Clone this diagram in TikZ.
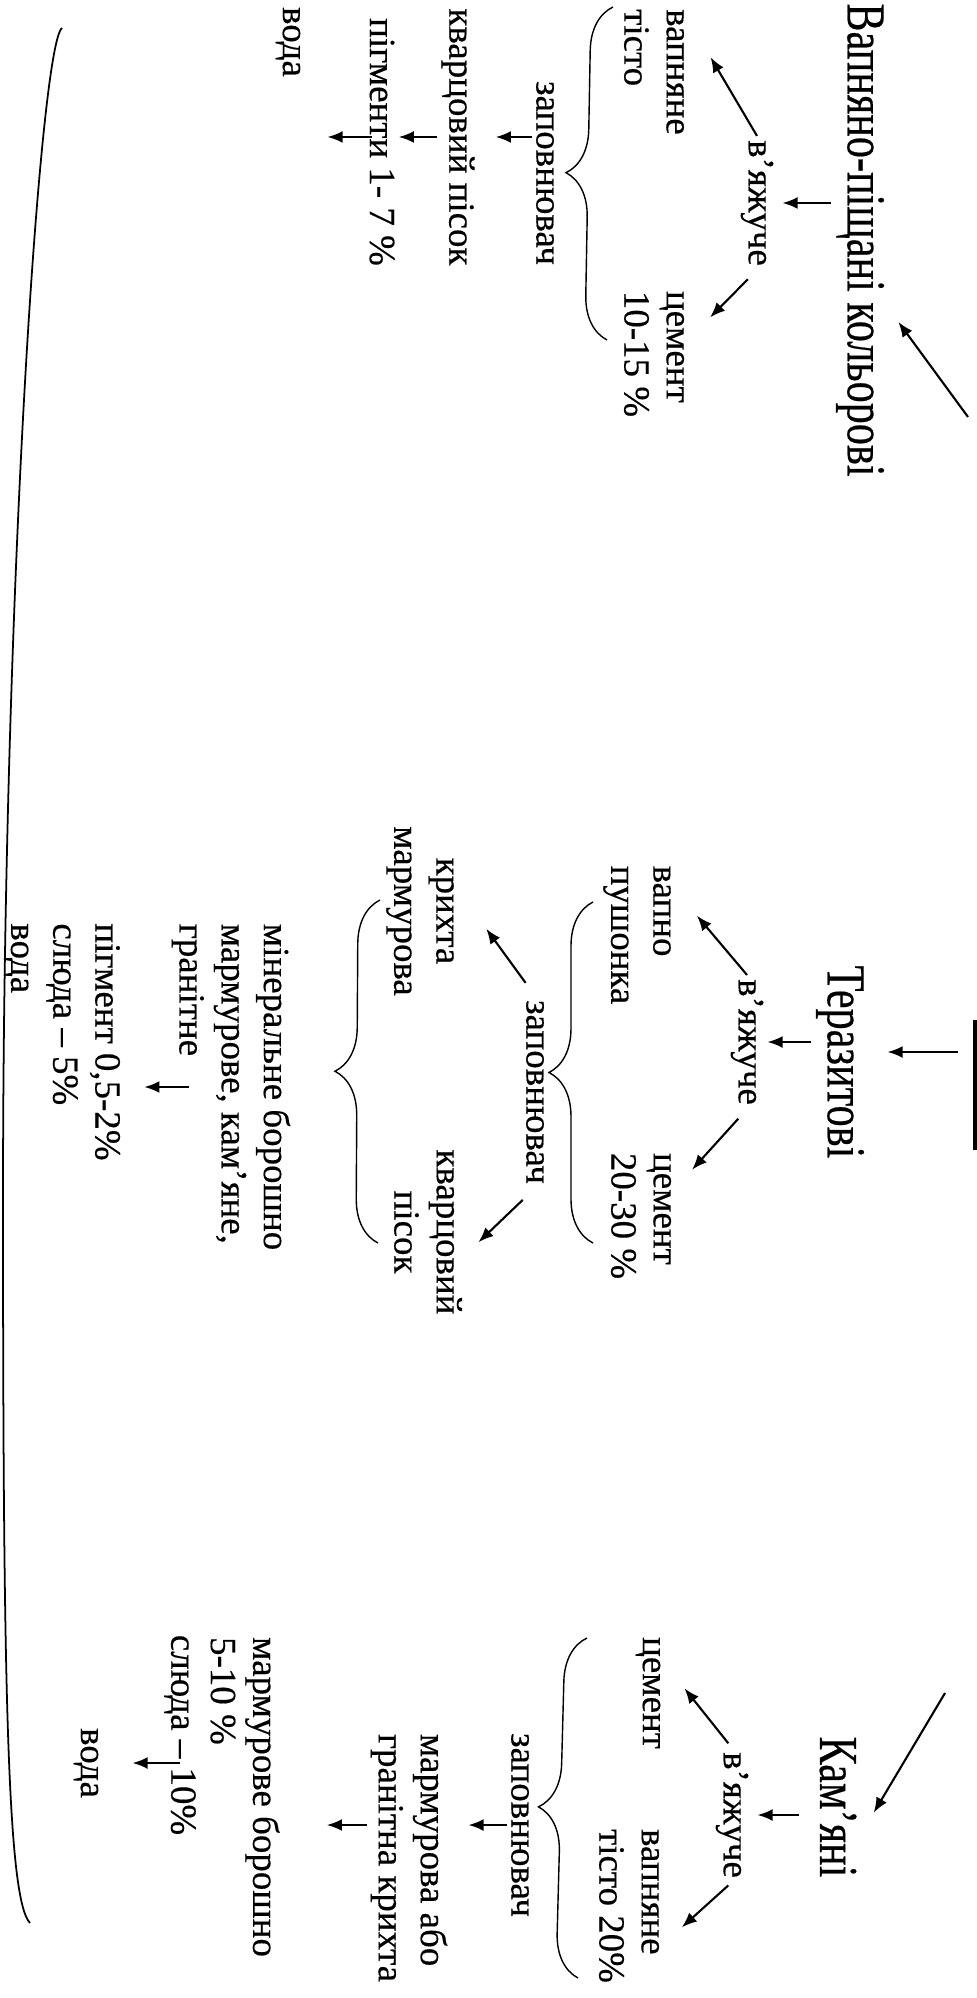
\documentclass[tikz,border=0pt]{standalone}
\usepackage{fontspec}
\setmainfont{Liberation Serif}[FakeBold=0.4]
\usetikzlibrary{arrows.meta,decorations.pathreplacing}

\begin{document}
\begin{tikzpicture}[x=0.01cm,y=-0.01cm,
    head/.style={font=\fontsize{12}{14}\selectfont,yscale=1.3},
    brc/.style={decorate,decoration={brace,amplitude=4.4mm},line width=0.4pt}]
\useasboundingbox (0,0) rectangle (977,1998);
\coordinate (s1) at (968,417);
\coordinate (s2) at (958,1052);
\coordinate (s3) at (945,1693);
\begin{scope}[every node/.style={rotate=-90,inner sep=1pt,align=left,
              font=\fontsize{10.5}{12}\selectfont}]
    % Вапняно-піщані кольорові
    \node[head] (t1) at (860,240) {Вапняно-піщані кольорові};
    \node (v1) at (757,203) {в’яжуче};
    \node (l1) at (654,72) {вапняне\\тісто};
    \node (c1) at (654,354) {цемент\\10-15 \%};
    \node (z1) at (545,173) {заповнювач};
    \node (k1) at (458,137) {кварцовий пісок};
    \node (p1) at (382,142) {пігменти 1- 7 \%};
    \node (w1) at (288,42) {вода};
    % Теразитові
    \node[head] (t2) at (840,1062) {Теразитові};
    \node (v2) at (747,1042) {в’яжуче};
    \node (l2) at (637,935) {вапно\\пушонка};
    \node (c2) at (641,1216) {цемент\\20-30 \%};
    \node (z2) at (535,1092) {заповнювач};
    \node[align=center] (kr2) at (420,911) {крихта\\мармурова};
    \node[align=center] (kv2) at (428,1232) {кварцовий\\пісок};
    \node (m2) at (231,1087) {мінеральне борошно\\мармурове, кам’яне,\\гранітне};
    \node (g2) at (62,1042) {пігмент 0,5-2\%\\слюда – 5\%\\вода};
    % Кам’яні
    \node[head] (t3) at (838,1807) {Кам’яні};
    \node (v3) at (732,1815) {в’яжуче};
    \node (ce3) at (648,1693) {цемент};
    \node (l3) at (629,1906) {вапняне\\тісто 20\%};
    \node (z3) at (520,1825) {заповнювач};
    \node (mg3) at (409,1858) {мармурова або\\гранітна крихта};
    \node (mb3) at (245,1797) {мармурове борошно\\5-10 \%};
    \node (sl3) at (180,1735) {слюда – 10\%};
    \node (w3) at (86,1763) {вода};
\end{scope}
\begin{scope}[every edge/.style={draw=black,line width=0.6pt,
              -{Latex[length=4.3pt,width=3.4pt]}}]
    \path (s1) edge[shorten >=1.5mm] (t1.18);
    \path (t1.south |- v1) edge[shorten >=0.5mm] (v1.north);
    \path (v1.west) edge[shorten >=4.4mm] (l1.147);
    \path (v1.east) edge[shorten <=1.3mm,shorten >=3.1mm] (c1.113);
    \path (z1.south |- k1) edge[shorten >=1.7mm] (k1.north);
    \path (k1.south) edge (k1.south -| p1.north);
    \path (p1 |- k1) edge[shorten <=1mm,shorten >=2.3mm] (k1 -| w1.north);

    \path (s2) edge[shorten >=1.8mm] (s2 -| t2.north);
    \path (t2.south |- v2) edge (v2.north);
    \path (v2.west) edge[shorten >=3.4mm] (l2.140);
    \path (v2.east) edge[shorten <=1.3mm,shorten >=2.5mm] (c2.129);
    \path (z2.west) edge[shorten <=1.6mm,shorten >=4.8mm] (kr2.119);
    \path (z2.east) edge[shorten <=1.7mm,shorten >=1.7mm] (kv2.60);
    \path ([xshift=2.2mm]m2.south) edge[shorten >=2mm] (m2.south -| g2.north);

    \path (s3) edge[shorten >=2.3mm] (t3.36);
    \path (t3.south |- v3) edge[shorten <=1.5mm,shorten >=0.5mm] (v3.north);
    \path (v3.west) edge[shorten <=0.6mm,shorten >=3.2mm] (ce3.151);
    \path (v3.east) edge[shorten <=0.5mm,shorten >=2.5mm] (l3.42);
    \path (z3.south) edge[shorten >=1.7mm] (z3.south -| mg3.north);
    \path (mg3.south |- z3) edge[shorten >=4.3mm] (z3 -| mb3.north);
    \path (sl3 |- w3) edge[shorten >=3mm] (w3.north);
\end{scope}
% braces
\draw[brc] (607,340) -- (613,7);
\draw[brc] (593,1243) -- (593,902);
\draw[brc] (378,1243) -- (380,900);
\draw[brc] (578,1978) -- (587,1638);
% long curve and edge mark
\draw[line width=0.5pt] (62,28) .. controls (40,45) and (3,600) .. (3,1200)
    .. controls (3,1700) and (8,1900) .. (30,1923);
\draw[line width=1.1pt] (975,1020) -- (975,1150);
\end{tikzpicture}
\end{document}
